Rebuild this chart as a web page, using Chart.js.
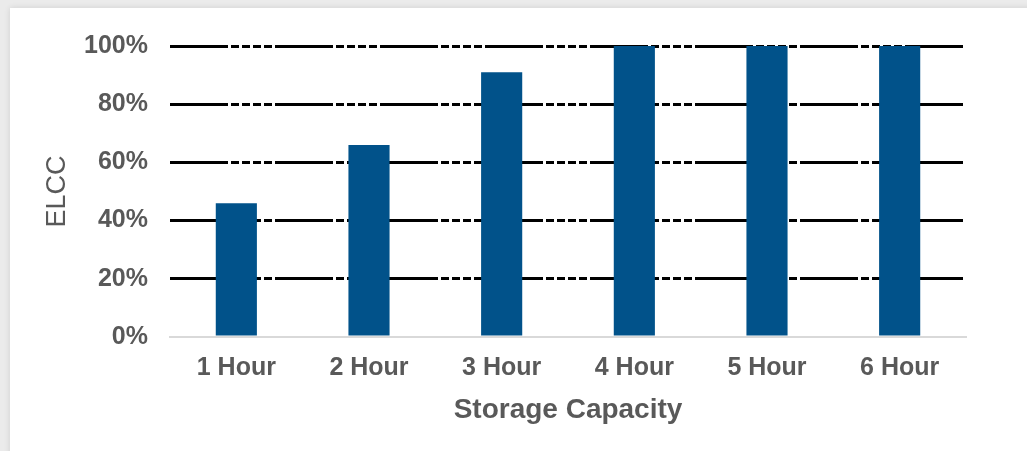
<!DOCTYPE html>
<html>
<head>
<meta charset="utf-8">
<script src="https://cdn.jsdelivr.net/npm/chart.js@4/dist/chart.umd.min.js"></script>
<style>
  html, body { margin: 0; padding: 0; }
  body { width: 1027px; height: 451px; background: #ebebeb; position: relative; overflow: hidden; }
  .card { position: absolute; left: 10px; top: 8px; right: -20px; bottom: -20px; background: #fff;
          box-shadow: 0 0 6px rgba(0,0,0,.12); }
  .wrap { position: absolute; left: 0; top: 0; width: 1027px; height: 451px; }
</style>
</head>
<body>
<div class="card"></div>
<div class="wrap"><canvas id="chart"></canvas></div>
<script>
const categories = ["1 Hour", "2 Hour", "3 Hour", "4 Hour", "5 Hour", "6 Hour"];
const elcc = [46, 66, 91, 100, 100, 100];
const yTicks = [0, 20, 40, 60, 80, 100];

const grey = "#595959";

new Chart(document.getElementById("chart"), {
    type: "bar",
    data: {
        labels: categories,
        datasets: [
            {
                data: elcc,
                backgroundColor: "#01528a",
                categoryPercentage: 1,
                barPercentage: 0.31,
            },
        ],
    },
    options: {
        responsive: true,
        maintainAspectRatio: false,
        animation: false,
        layout: { padding: { left: 0, right: 61, top: 46, bottom: 0 } },
        plugins: { legend: false, tooltip: { enabled: false } },
        scales: {
            x: {
                grid: { display: false, drawTicks: false },
                border: { display: true, color: "#d9d9d9", width: 2 },
                ticks: {
                    color: grey,
                    padding: 16,
                    font: { family: "Liberation Sans, Arial", size: 25, weight: "bold" },
                },
                title: {
                    display: true,
                    text: "Storage Capacity",
                    color: grey,
                    padding: { top: 0, bottom: 24 },
                    font: { family: "Liberation Sans, Arial", size: 28, weight: "bold" },
                },
                afterFit(scale) {
                    scale.height = 114;
                },
            },
            y: {
                min: 0,
                max: 100,
                afterBuildTicks(scale) {
                    scale.ticks = yTicks.map((v) => ({ value: v }));
                },
                grid: {
                    drawTicks: false,
                    lineWidth: 3,
                    // the 0% line is the x axis border instead
                    color: (ctx) => (ctx.tick && ctx.tick.value === 0 ? "rgba(0,0,0,0)" : "#000"),
                },
                border: { display: false, dash: [58, 3, 8, 3, 8, 3, 8, 3, 8, 3] },
                ticks: {
                    color: grey,
                    padding: 22,
                    font: { family: "Liberation Sans, Arial", size: 25, weight: "bold" },
                    callback: (v) => v + "%",
                },
                title: {
                    display: true,
                    text: "ELCC",
                    color: grey,
                    padding: { top: 41, bottom: 0 },
                    font: { family: "Liberation Sans, Arial", size: 27 },
                },
                afterFit(scale) {
                    scale.width = 170;
                },
            },
        },
    },
});
</script>
</body>
</html>
